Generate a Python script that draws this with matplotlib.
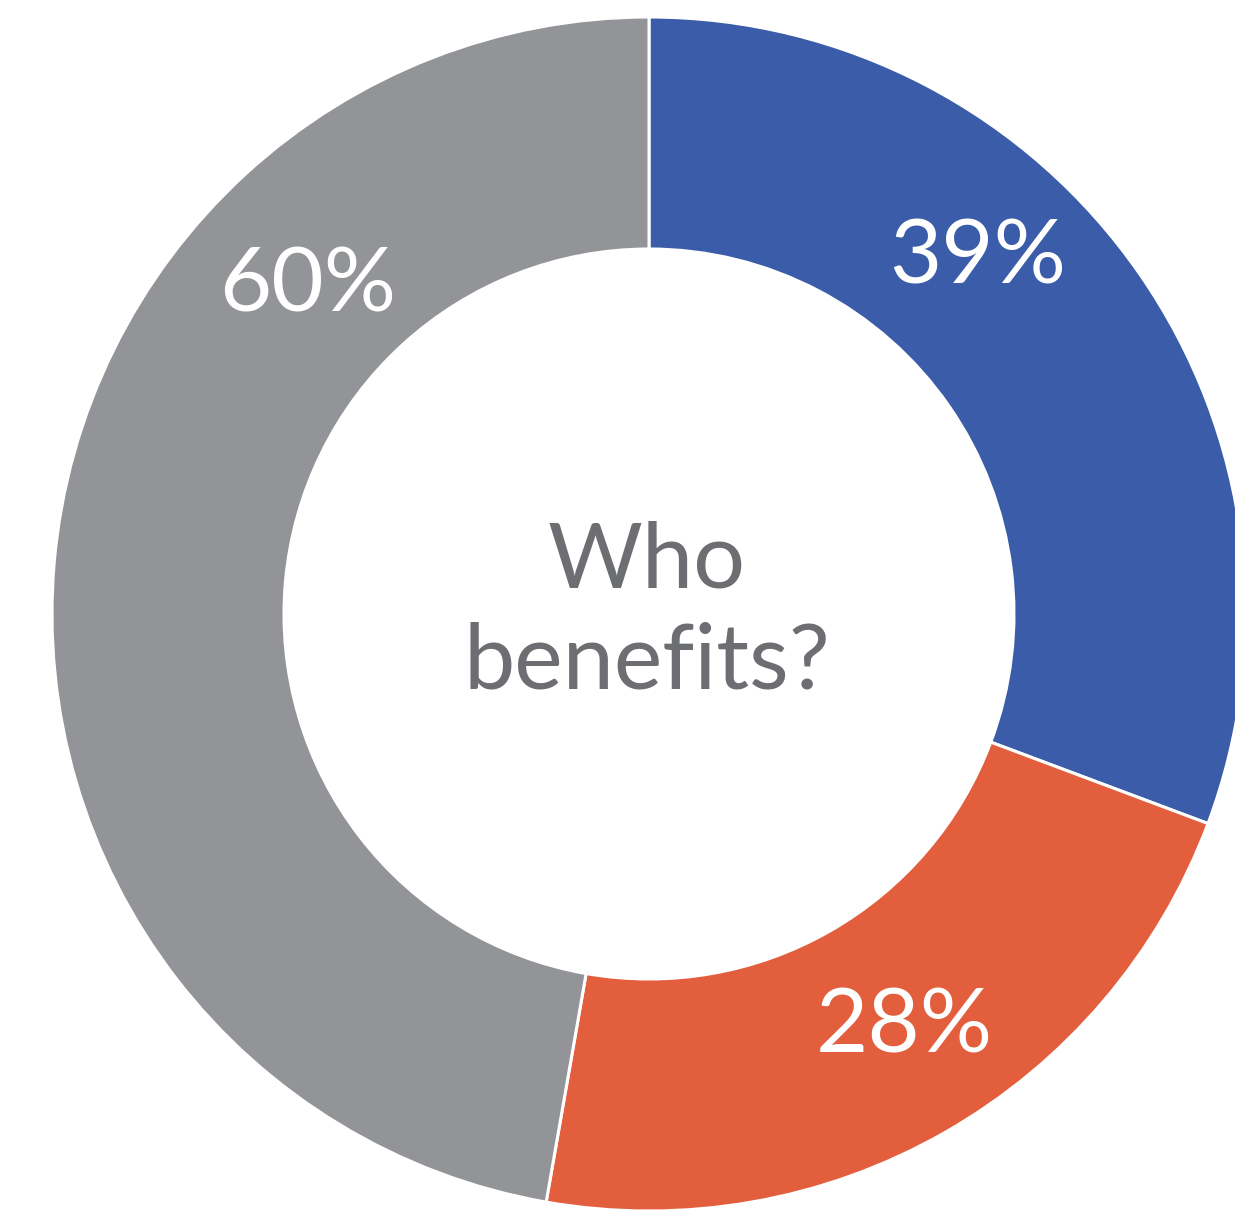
import matplotlib.pyplot as plt

# share of benefits by group, drawn clockwise from 12 o'clock
shares = [39, 28, 60]
labels = ["39%", "28%", "60%"]
colors = ["#3A5CA9", "#E25E3C", "#939497"]

# label anchors (baseline centre) in units of the outer radius
label_xy = [(0.550, 0.553), (0.428, -0.735), (-0.571, 0.507)]

W, H = 1235, 1211
cx, cy, R = 649, 614, 597
hole = 365 / 597

fig = plt.figure(figsize=(W / 100, H / 100), dpi=100)
ax = fig.add_axes([0, 0, 1, 1])
ax.axis("off")

ax.pie(shares, colors=colors, startangle=90, counterclock=False,
       radius=1.0,
       wedgeprops=dict(width=1 - hole, edgecolor="white", linewidth=2.2))
ax.set_xlim(-cx / R, (W - cx) / R)
ax.set_ylim(-(H - cy) / R, cy / R)
ax.set_aspect("equal")

for (x, y), txt in zip(label_xy, labels):
    ax.text(x, y, txt, ha="center", va="baseline", color="white",
            fontsize=65, family="Lato")

ax.text(-0.004, 0.0452, "Who", ha="center", va="baseline",
        color="#6D6E71", fontsize=66, family="Lato")
ax.text(-0.004, -0.1256, "benefits?", ha="center", va="baseline",
        color="#6D6E71", fontsize=66, family="Lato")

fig.savefig("out.png", dpi=100)
